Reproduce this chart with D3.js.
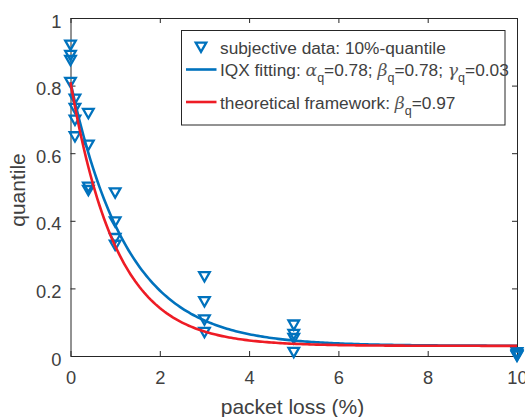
<!DOCTYPE html>
<html><head><meta charset="utf-8">
<script src="https://cdn.jsdelivr.net/npm/d3@7"></script>
<style>body{margin:0;background:#fff}svg{display:block}</style>
</head><body>
<script>
// ---- data ----
const lossLevels = [0, 0.1, 0.4, 1, 3, 5, 10];
const quantileAt0   = [0.92, 0.89, 0.875, 0.81];
const quantileAt01  = [0.76, 0.733, 0.698, 0.649];
const quantileAt04  = [0.718, 0.624, 0.50, 0.49];
const quantileAt1   = [0.483, 0.397, 0.348, 0.328];
const quantileAt3   = [0.235, 0.161, 0.107, 0.070];
const quantileAt5   = [0.092, 0.064, 0.052, 0.011];
const quantileAt10  = [0.010, 0.005, 0.002, 0.0];
const quantileSets = [quantileAt0, quantileAt01, quantileAt04, quantileAt1, quantileAt3, quantileAt5, quantileAt10];
const xTicks = [0, 2, 4, 6, 8, 10];
const yTicks = [0, 0.2, 0.4, 0.6, 0.8, 1];
const iqxAlpha = 0.78, iqxBeta = 0.78, iqxGamma = 0.03;
const theoryBeta = 0.97;
const legendLabels = ["subjective data: 10%-quantile", "IQX fitting", "theoretical framework"];

// ---- layout ----
const W = 525, H = 417;
const pL = 70.5, pR = 517, pT = 18, pB = 356;
const blue = "#0072BD", red = "#EE1C25", axisCol = "#262626", textCol = "#404040";
const font = "'Liberation Sans', Arial, Helvetica, sans-serif";
const greekFont = "'DejaVu Serif', 'Liberation Serif', serif";

const svg = d3.select("body").append("svg").attr("width", W).attr("height", H);
const x = d3.scaleLinear().domain([0, 10]).range([pL, pR]);
const y = d3.scaleLinear().domain([0, 1]).range([pB, pT]);

// axes
const axB = svg.append("g").attr("transform", `translate(0,${pB})`)
  .call(d3.axisBottom(x).tickValues(xTicks).tickFormat(d3.format("d")).tickSizeInner(-5).tickSizeOuter(0).tickPadding(15.5));
const axT = svg.append("g").attr("transform", `translate(0,${pT})`)
  .call(d3.axisTop(x).tickValues(xTicks).tickFormat("").tickSizeInner(-5).tickSizeOuter(0));
const axL = svg.append("g").attr("transform", `translate(${pL},0)`)
  .call(d3.axisLeft(y).tickValues(yTicks).tickFormat(d => d === 0 || d === 1 ? d3.format("d")(d) : d3.format(".1f")(d)).tickSizeInner(-5).tickSizeOuter(0).tickPadding(9));
const axR = svg.append("g").attr("transform", `translate(${pR},0)`)
  .call(d3.axisRight(y).tickValues(yTicks).tickFormat("").tickSizeInner(-5).tickSizeOuter(0));
[axB, axT, axL, axR].forEach(g => {
  g.select(".domain").attr("stroke", axisCol).attr("stroke-width", 1);
  g.selectAll(".tick line").attr("stroke", axisCol).attr("stroke-width", 1);
  g.selectAll("text").attr("fill", textCol).style("font-family", font).style("font-size", "18.3px");
});
axL.selectAll("text").attr("dy", "0.5em");

// axis titles
svg.append("text").attr("x", 292.5).attr("y", 414).attr("text-anchor", "middle")
  .attr("fill", textCol).style("font-family", font).style("font-size", "21px").text("packet loss (%)");
svg.append("text").attr("transform", `translate(25,190) rotate(-90)`).attr("text-anchor", "middle")
  .attr("fill", textCol).style("font-family", font).style("font-size", "21px").text("quantile");

// marker
const tri = "M-5.3,-4.4L5.3,-4.4L0,4.9Z";

// data points
const pts = [];
lossLevels.forEach((lv, i) => quantileSets[i].forEach(v => pts.push([lv, v])));
svg.append("g").selectAll("path").data(pts).join("path")
  .attr("d", tri).attr("transform", d => `translate(${x(d[0])},${y(d[1])})`)
  .attr("fill", "none").attr("stroke", blue).attr("stroke-width", 2.3).attr("stroke-linejoin", "miter");

// curves (model defined by legend parameters)
const xs = d3.range(0, 10.0001, 0.05);
const line = d3.line().x(d => x(d[0])).y(d => y(d[1]));
svg.append("path").datum(xs.map(v => [v, iqxAlpha * Math.exp(-iqxBeta * v) + iqxGamma]))
  .attr("d", line).attr("fill", "none").attr("stroke", blue).attr("stroke-width", 2.6);
svg.append("path").datum(xs.map(v => [v, iqxAlpha * Math.exp(-theoryBeta * v) + iqxGamma]))
  .attr("d", line).attr("fill", "none").attr("stroke", red).attr("stroke-width", 2.6);

// legend
const lg = svg.append("g");
lg.append("rect").attr("x", 181.5).attr("y", 30.5).attr("width", 323.5).attr("height", 94.5)
  .attr("fill", "#fff").attr("stroke", axisCol).attr("stroke-width", 1);
lg.append("path").attr("d", tri).attr("transform", "translate(201,47)")
  .attr("fill", "none").attr("stroke", blue).attr("stroke-width", 2.3);
lg.append("line").attr("x1", 186).attr("x2", 216.5).attr("y1", 69.5).attr("y2", 69.5).attr("stroke", blue).attr("stroke-width", 2.6);
lg.append("line").attr("x1", 186).attr("x2", 216.5).attr("y1", 102).attr("y2", 102).attr("stroke", red).attr("stroke-width", 2.6);

const lt = (yy) => lg.append("text").attr("x", 220).attr("y", yy).attr("fill", textCol)
  .style("font-family", font).style("font-size", "17.3px");
lt(53.5).text(legendLabels[0]);

function greek(t, ch, val, last) {
  t.append("tspan").style("font-family", greekFont).style("font-style", "italic").attr("fill", "#555").text(ch);
  t.append("tspan").attr("dy", 6).style("font-size", "12.5px").text("q");
  t.append("tspan").attr("dy", -6).text("=" + val + (last ? "" : "; "));
}
const t2 = lt(76);
t2.append("tspan").text(legendLabels[1] + ": ");
greek(t2, "α", "0.78", false);
greek(t2, "β", "0.78", false);
greek(t2, "γ", "0.03", true);

const t3 = lt(108.5);
t3.append("tspan").text(legendLabels[2] + ": ");
greek(t3, "β", "0.97", true);
</script>
</body></html>
